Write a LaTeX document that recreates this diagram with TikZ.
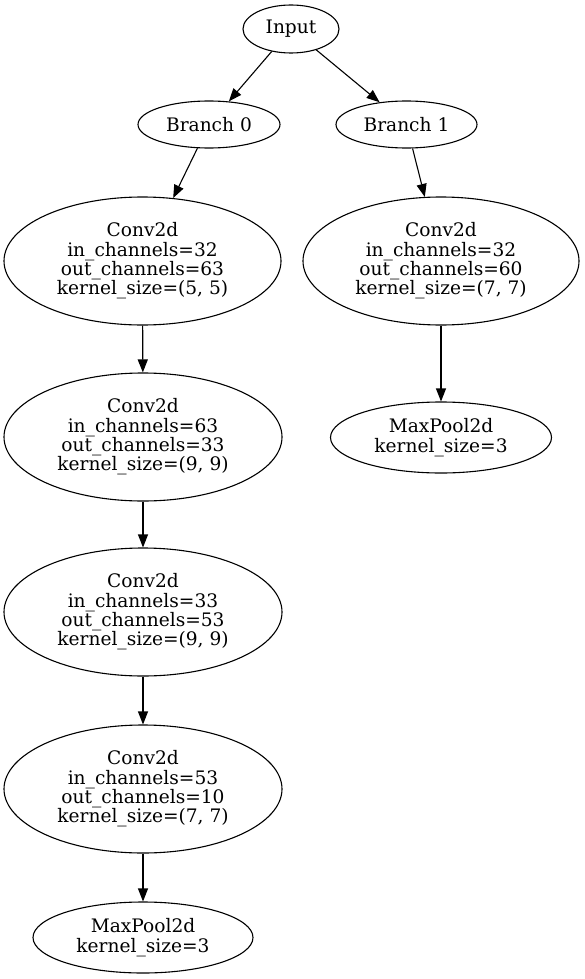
\documentclass[tikz,border=0pt]{standalone}
\usepackage{fontspec}
\setmainfont{DejaVu Serif}
\usetikzlibrary{shapes.geometric,arrows.meta}
\begin{document}
\begin{tikzpicture}[x=1pt,y=-1pt,
  nd/.style={draw,ellipse,inner sep=0pt,line width=1.1pt,align=center,font=\fontsize{18.6}{19.3}\selectfont},
  edge/.style={-{Triangle[length=13pt,width=10pt]},line width=1.1pt}]
\useasboundingbox (0,0) rectangle (585,979);
\node[nd,minimum width=96,minimum height=48] (in) at (291,29) {Input};
\node[nd,minimum width=142,minimum height=47] (b0) at (209,124.5) {Branch 0};
\node[nd,minimum width=141,minimum height=47] (b1) at (406.5,124.5) {Branch 1};
\node[nd,minimum width=277,minimum height=128] (c1) at (142.5,261) {Conv2d\\in\_channels=32\\out\_channels=63\\kernel\_size=(5, 5)};
\node[nd,minimum width=276,minimum height=128] (r1) at (441,261) {Conv2d\\in\_channels=32\\out\_channels=60\\kernel\_size=(7, 7)};
\node[nd,minimum width=278,minimum height=128] (c2) at (143,437) {Conv2d\\in\_channels=63\\out\_channels=33\\kernel\_size=(9, 9)};
\node[nd,minimum width=221,minimum height=71] (r2) at (441,437.5) {MaxPool2d\\kernel\_size=3};
\node[nd,minimum width=278,minimum height=128] (c3) at (143,612) {Conv2d\\in\_channels=33\\out\_channels=53\\kernel\_size=(9, 9)};
\node[nd,minimum width=278,minimum height=128] (c4) at (143,789) {Conv2d\\in\_channels=53\\out\_channels=10\\kernel\_size=(7, 7)};
\node[nd,minimum width=220,minimum height=71] (c5) at (143,937.5) {MaxPool2d\\kernel\_size=3};
\draw[edge] (in) -- (b0);
\draw[edge] (in) -- (b1);
\draw[edge] (b0) -- (c1);
\draw[edge] (b1) -- (r1);
\draw[edge] (r1) -- (r2);
\draw[edge] (c1) -- (c2);
\draw[edge] (c2) -- (c3);
\draw[edge] (c3) -- (c4);
\draw[edge] (c4) -- (c5);
\end{tikzpicture}
\end{document}
